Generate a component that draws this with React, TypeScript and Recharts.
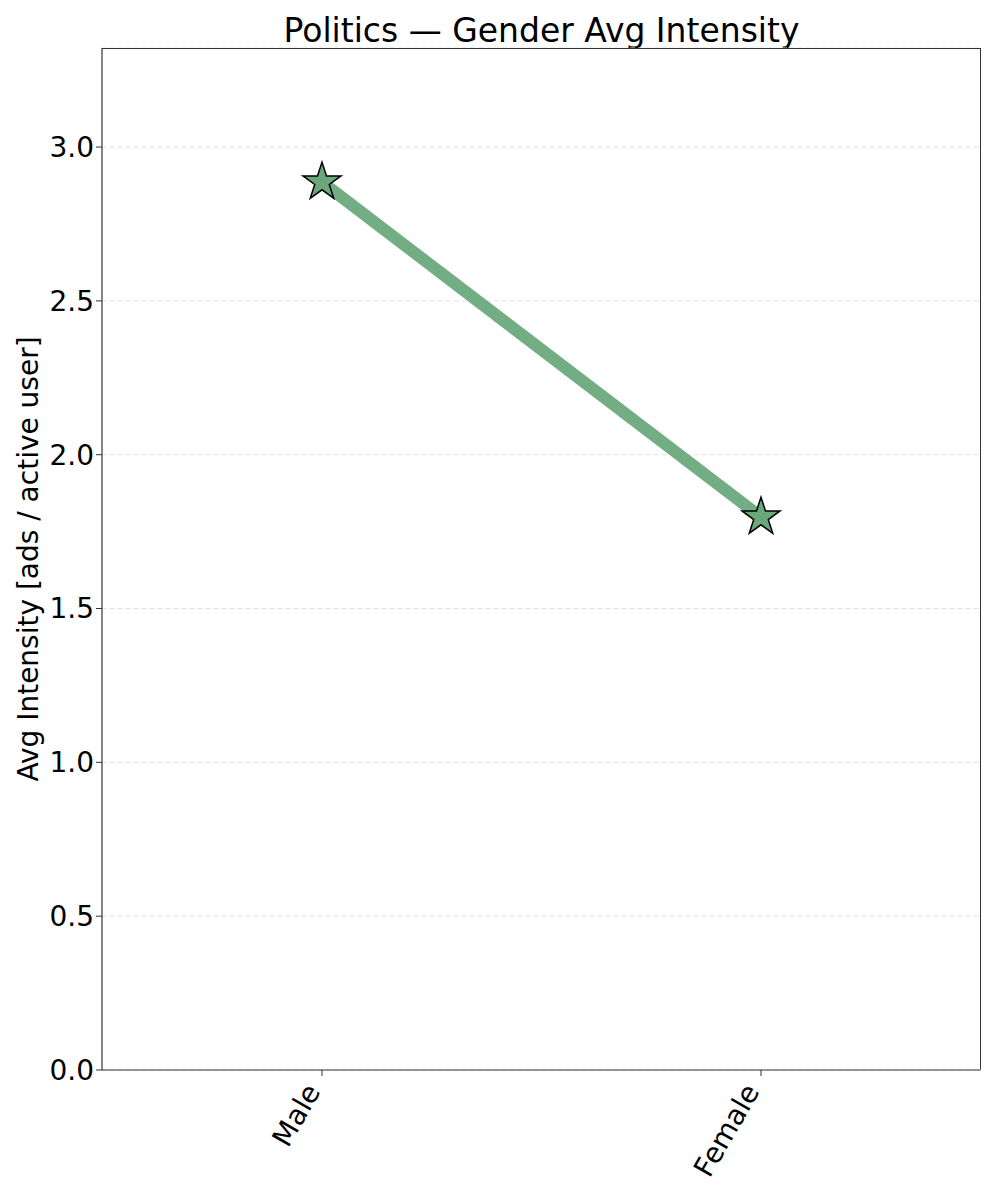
import React from "react";
import { LineChart, Line, XAxis, YAxis, CartesianGrid } from "recharts";

const genders = ["Male", "Female"];
const avgIntensity = [2.886, 1.797];
const yTicks = [0, 0.5, 1.0, 1.5, 2.0, 2.5, 3.0];

const data = genders.map((g, i) => ({ gender: g, value: avgIntensity[i] }));

const FONT = "DejaVu Sans, sans-serif";
const LINE_COLOR = "#72ad84";
const STAR_FILL = "#6aa87b";

function StarDot(props: any) {
  const { cx, cy } = props;
  if (cx == null || cy == null) return null;
  const R = 20;
  const r = R * 0.382;
  const pts: string[] = [];
  for (let i = 0; i < 10; i++) {
    const rad = i % 2 === 0 ? R : r;
    const a = -Math.PI / 2 + (i * Math.PI) / 5;
    pts.push(`${cx + rad * Math.cos(a)},${cy + rad * Math.sin(a)}`);
  }
  return <polygon points={pts.join(" ")} fill={STAR_FILL} stroke="#000" strokeWidth={1.5} strokeLinejoin="miter" />;
}

function XTick(props: any) {
  const { x, y, payload } = props;
  return (
    <g transform={`translate(${x - 7},${y + 5})`}>
      <text
        transform="rotate(-60)"
        textAnchor="end"
        dominantBaseline="central"
        fontFamily={FONT}
        fontSize={28}
        fill="#000"
        x={-4}
        y={0}
      >
        {payload.value}
      </text>
    </g>
  );
}

export default function App() {
  return (
    <div style={{ position: "absolute", left: 0, top: 0, width: 997, height: 1196, background: "#fff" }}>
      <div
        style={{
          position: "absolute",
          left: 102,
          width: 879,
          top: 11,
          textAlign: "center",
          fontFamily: FONT,
          fontSize: 33,
          lineHeight: "40px",
          color: "#000",
        }}
      >
        Politics — Gender Avg Intensity
      </div>
      <LineChart width={997} height={1196} data={data} margin={{ top: 48, right: 16, bottom: 0, left: 0 }}>
        <CartesianGrid horizontal vertical={false} stroke="#e3e3e3" strokeDasharray="5 3" />
        <XAxis
          dataKey="gender"
          type="category"
          padding={{ left: 220, right: 220 }}
          height={126}
          tick={<XTick />}
          tickLine={{ stroke: "#333" }}
          tickSize={6}
          axisLine={{ stroke: "#333", strokeWidth: 1.2 }}
          interval={0}
        />
        <YAxis
          domain={[0, 3.322]}
          ticks={yTicks}
          width={102}
          tickFormatter={(v: number) => v.toFixed(1)}
          tick={{ fontFamily: FONT, fontSize: 28, fill: "#000" }}
          tickLine={{ stroke: "#333" }}
          tickSize={6}
          axisLine={{ stroke: "#333", strokeWidth: 1.2 }}
          allowDataOverflow
          label={{
            value: "Avg Intensity [ads / active user]",
            angle: -90,
            position: "insideLeft",
            offset: 0,
            dx: 28,
            style: { fontFamily: FONT, fontSize: 28, fill: "#000", textAnchor: "middle" },
          }}
        />
        <Line
          dataKey="value"
          stroke={LINE_COLOR}
          strokeWidth={12}
          dot={(p: any) => <StarDot key={p.index} {...p} />}
          activeDot={false}
          isAnimationActive={false}
        />
      </LineChart>
      {/* frame around the plot area (top and right spines) */}
      <div
        style={{
          position: "absolute",
          left: 102,
          top: 48,
          width: 879,
          height: 1021,
          borderTop: "1.2px solid #333",
          borderRight: "1.2px solid #333",
          boxSizing: "border-box",
          pointerEvents: "none",
        }}
      />
    </div>
  );
}
